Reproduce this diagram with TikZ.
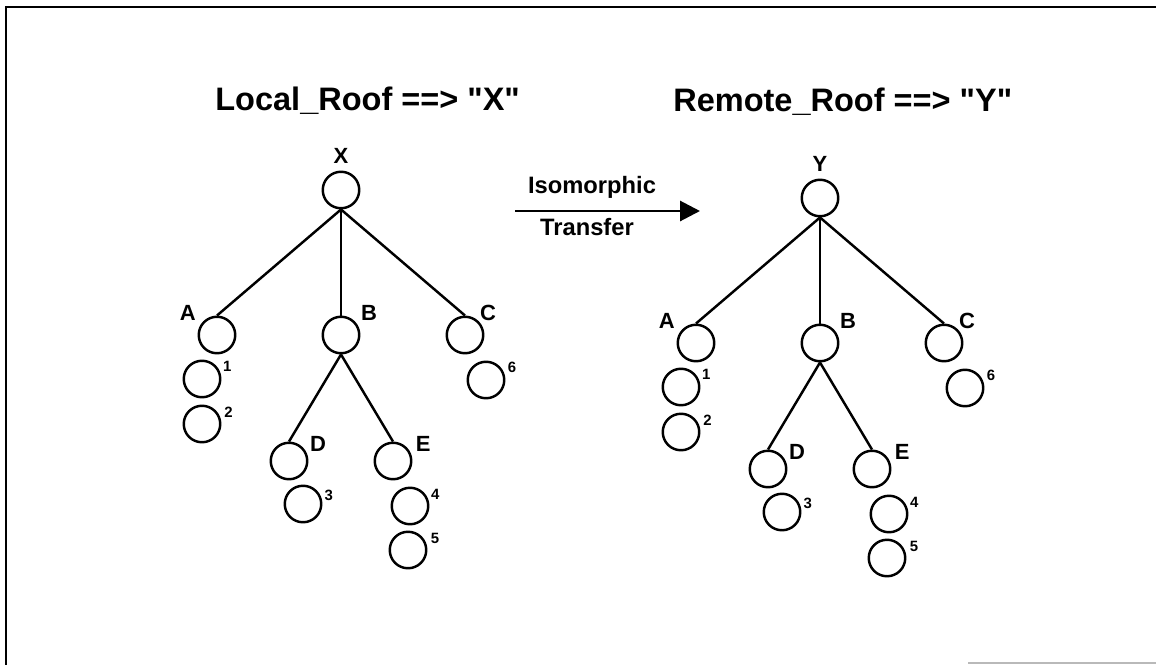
\documentclass[tikz,border=0pt]{standalone}
\usepackage{fontspec}
\setmainfont{Liberation Sans}
\usepackage{tikz}
\usetikzlibrary{arrows.meta,positioning}

\begin{document}
\begin{tikzpicture}[>={Triangle[length=4mm,width=4mm]},node distance=2.9cm and 2.48cm,on grid,
    leaf/.style={circle,draw,line width=1.4pt,minimum size=7.3mm,inner sep=0pt},
    lbl/.style={inner sep=0pt,anchor=center,font=\bfseries\fontsize{12.5}{14}\selectfont},
    num/.style={inner sep=0pt,anchor=center,font=\bfseries\fontsize{8.5}{10}\selectfont},
    title/.style={inner sep=0pt,font=\bfseries\fontsize{18.5}{22}\selectfont},
    arrowtext/.style={inner sep=0pt,font=\bfseries\fontsize{13.5}{16}\selectfont},
    branch/.style={line width=1.4pt}]
  \useasboundingbox (0,0) rectangle (23.12,-13.3);
  % frame
  \draw[line width=1.1pt] (23.12,-0.14) -- (0.12,-0.14) -- (0.12,-13.3);
  \draw[gray!55,line width=0.6pt] (19.36,-13.26) -- (23.12,-13.26);

  % local tree
  \node[title,anchor=base west] (ltitle) at (4.3,-2.2) {Local\_Roof ==> \textquotedbl X\textquotedbl};
  \node[leaf,label={[lbl,label distance=3mm]90:X}]     (X)  at (6.82,-3.8) {};
  \node[leaf,label={[lbl,label distance=3.4mm]143:A}]  (XA) [below left=of X]  {};
  \node[leaf,label={[lbl,label distance=3.2mm]38:B}]   (XB) [below=of X]       {};
  \node[leaf,label={[lbl,label distance=2.5mm]44:C}]   (XC) [below right=of X] {};
  \node[leaf,label={[lbl,label distance=2.8mm]30:D}]   (XD) [below left=2.52cm and 1.04cm of XB]  {};
  \node[leaf,label={[lbl,label distance=3mm]29:E}]     (XE) [below right=2.52cm and 1.04cm of XB] {};
  \node[leaf,label={[num,label distance=1.8mm]27:1}]   (X1) [below left=0.88cm and 0.3cm of XA]   {};
  \node[leaf,label={[num,label distance=1.9mm]24:2}]   (X2) [below=0.9cm of X1]                   {};
  \node[leaf,label={[num,label distance=1.5mm]18:3}]   (X3) [below right=0.86cm and 0.28cm of XD] {};
  \node[leaf,label={[num,label distance=1.7mm]25:4}]   (X4) [below right=0.9cm and 0.34cm of XE]  {};
  \node[leaf,label={[num,label distance=2mm]23:5}]     (X5) [below left=0.88cm and 0.04cm of X4]  {};
  \node[leaf,label={[num,label distance=1.9mm]26:6}]   (X6) [below right=0.9cm and 0.42cm of XC]  {};
  \draw[branch] (X.south) -- (XA.north);
  \draw[branch] (X.south) -- (XB.north);
  \draw[branch] (X.south) -- (XC.north);
  \draw[branch] (XB.south) -- (XD.north);
  \draw[branch] (XB.south) -- (XE.north);

  % transfer arrow
  \node[arrowtext,anchor=base] (iso) at (11.84,-3.86) {Isomorphic};
  \node[arrowtext,anchor=base] (tra) at (11.74,-4.7) {Transfer};
  \coordinate (tStart) at (10.3,-4.22);
  \coordinate (tEnd) at (14.0,-4.22);
  \draw[->,line width=1.7pt] (tStart) -- (tEnd);

  % remote tree
  \node[title,anchor=base west] (rtitle) at (13.46,-2.22) {Remote\_Roof ==> \textquotedbl Y\textquotedbl};
  \node[leaf,label={[lbl,label distance=3mm]90:Y}]     (Y)  at (16.4,-3.96) {};
  \node[leaf,label={[lbl,label distance=3.4mm]143:A}]  (YA) [below left=of Y]  {};
  \node[leaf,label={[lbl,label distance=3.2mm]38:B}]   (YB) [below=of Y]       {};
  \node[leaf,label={[lbl,label distance=2.5mm]44:C}]   (YC) [below right=of Y] {};
  \node[leaf,label={[lbl,label distance=2.8mm]30:D}]   (YD) [below left=2.52cm and 1.04cm of YB]  {};
  \node[leaf,label={[lbl,label distance=3mm]29:E}]     (YE) [below right=2.52cm and 1.04cm of YB] {};
  \node[leaf,label={[num,label distance=1.8mm]27:1}]   (Y1) [below left=0.88cm and 0.3cm of YA]   {};
  \node[leaf,label={[num,label distance=1.9mm]24:2}]   (Y2) [below=0.9cm of Y1]                   {};
  \node[leaf,label={[num,label distance=1.5mm]18:3}]   (Y3) [below right=0.86cm and 0.28cm of YD] {};
  \node[leaf,label={[num,label distance=1.7mm]25:4}]   (Y4) [below right=0.9cm and 0.34cm of YE]  {};
  \node[leaf,label={[num,label distance=2mm]23:5}]     (Y5) [below left=0.88cm and 0.04cm of Y4]  {};
  \node[leaf,label={[num,label distance=1.9mm]26:6}]   (Y6) [below right=0.9cm and 0.42cm of YC]  {};
  \draw[branch] (Y.south) -- (YA.north);
  \draw[branch] (Y.south) -- (YB.north);
  \draw[branch] (Y.south) -- (YC.north);
  \draw[branch] (YB.south) -- (YD.north);
  \draw[branch] (YB.south) -- (YE.north);
\end{tikzpicture}
\end{document}
